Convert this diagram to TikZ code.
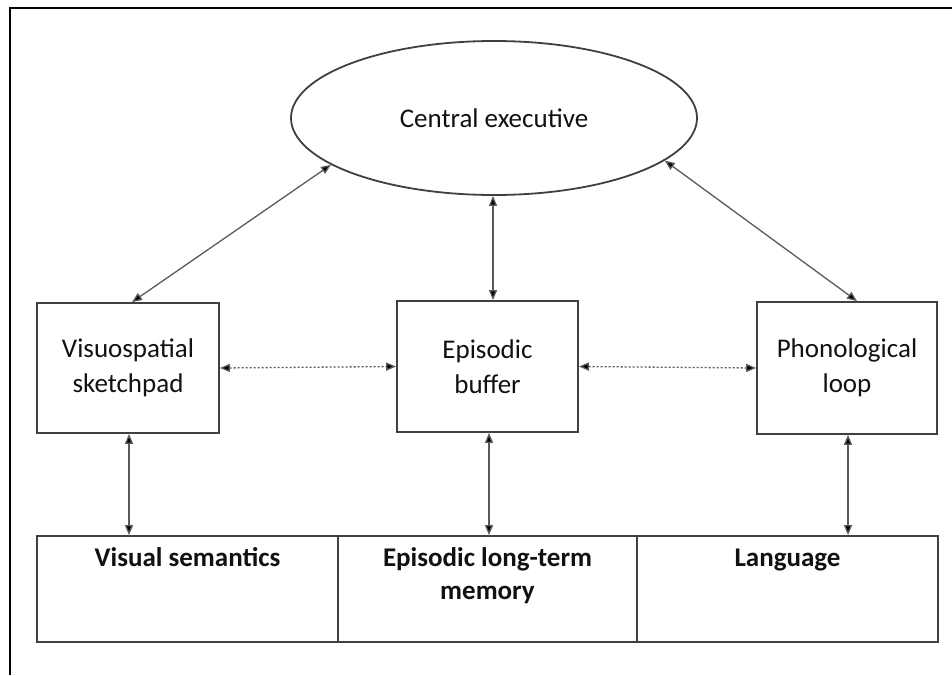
\documentclass[tikz,border=0pt]{standalone}
\usepackage{fontspec}
\setmainfont{Carlito}
\usetikzlibrary{arrows.meta,shapes.geometric,calc}
\definecolor{boxline}{HTML}{404040}
\definecolor{arrline}{HTML}{5A5A5A}
\definecolor{txt}{HTML}{111111}
\begin{document}
\begin{tikzpicture}[x=1pt,y=-1pt,
  every node/.style={text=txt,font=\fontsize{27}{35}\selectfont},
  ellbox/.style={ellipse,draw=boxline,line width=1.8pt,inner sep=0pt,minimum width=406pt,minimum height=154pt},
  midbox/.style={rectangle,draw=boxline,line width=1.8pt,inner sep=0pt,align=center},
  lowbox/.style={rectangle,draw=boxline,line width=1.8pt,inner sep=0pt,minimum height=106pt},
  lowtext/.style={anchor=north,inner sep=0pt,align=center,font=\fontsize{27}{33}\selectfont\bfseries},
  arr/.style={draw=arrline,line width=1.3pt,{Triangle[length=10pt,width=8pt,fill=black]}-{Triangle[length=10pt,width=8pt,fill=black]}},
  dotarr/.style={arr,dash pattern=on 2pt off 2pt}
]
\useasboundingbox (0,0) rectangle (952,675);
\draw[line width=2.5pt,black] (10,675) -- (10,8) -- (952,8);

\node[ellbox] (ce) at (494,118) {Central executive};

\node[midbox,minimum width=182pt,minimum height=130pt] (vis) at (128,368) {Visuospatial\\sketchpad};
\node[midbox,minimum width=181pt,minimum height=131pt] (epi) at (487.5,366.5) {Episodic\\buffer};
\node[midbox,minimum width=180pt,minimum height=132pt] (pho) at (847,368) {Phonological\\loop};

\node[lowbox,minimum width=301pt] (vs) at (187.5,589) {};
\node[lowbox,minimum width=299pt] (em) at (487.5,589) {};
\node[lowbox,minimum width=301pt] (lg) at (787.5,589) {};

\node[lowtext] (vst) at ([yshift=-12pt]vs.north) {Visual semantics};
\node[lowtext] (emt) at ([yshift=-12pt]em.north) {Episodic long-term\\memory};
\node[lowtext] (lgt) at ([yshift=-12pt]lg.north) {Language\vphantom{l}};

\draw[arr] (ce.196) -- ([xshift=4pt]vis.north);
\draw[arr] (ce.-14) -- ([xshift=10pt]pho.north);
\draw[arr] ([xshift=5.5pt]epi.north |- ce.south) -- ([xshift=5.5pt]epi.north);

\draw[dotarr] (vis.east) -- (epi.west);
\draw[dotarr] (epi.east) -- (pho.west);

\draw[arr] ([xshift=1pt]vis.south) -- ([xshift=1pt]vis.south |- vs.north);
\draw[arr] ([xshift=1.5pt]epi.south) -- ([xshift=1.5pt]epi.south |- em.north);
\draw[arr] ([xshift=1pt]pho.south) -- ([xshift=1pt]pho.south |- lg.north);
\end{tikzpicture}
\end{document}
